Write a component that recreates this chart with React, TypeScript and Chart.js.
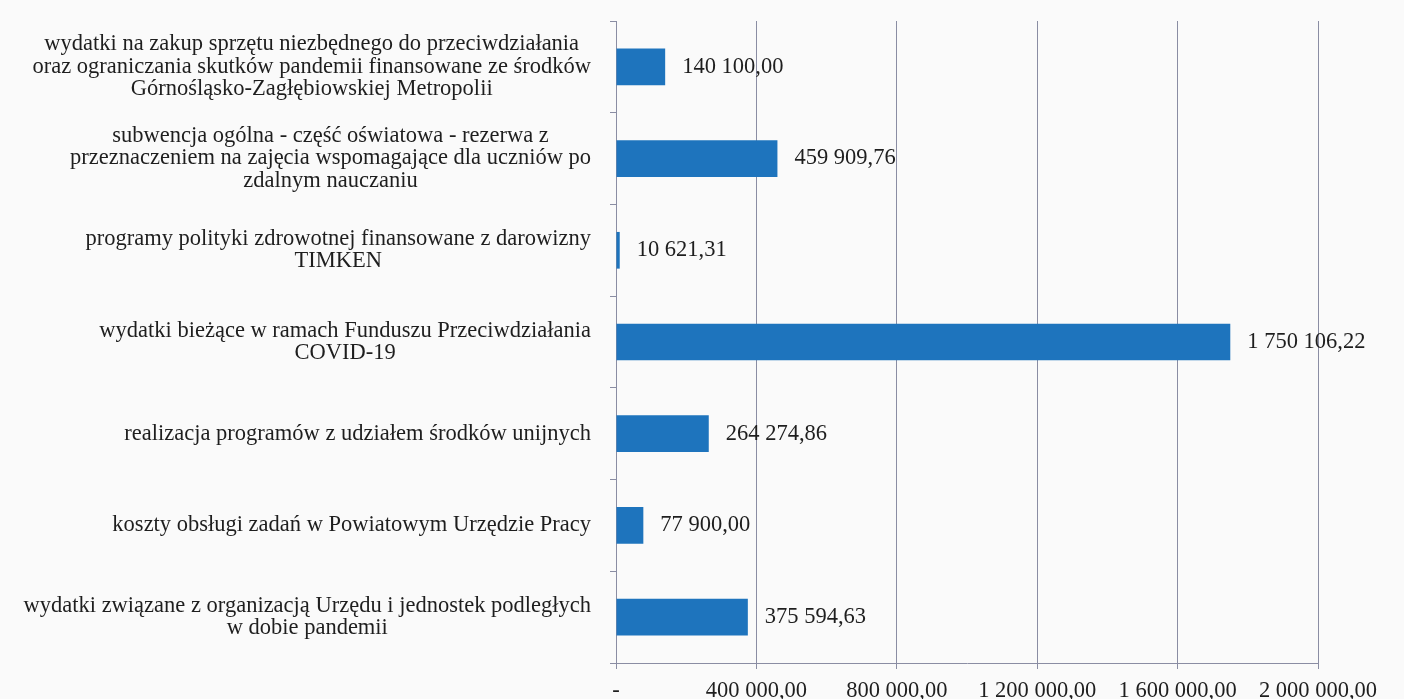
import React, { useEffect, useRef } from "react";
import { Chart, registerables } from "chart.js";

Chart.register(...registerables);

const categoryLines: string[][] = [
  [
    "wydatki na zakup sprzętu niezbędnego do przeciwdziałania",
    "oraz ograniczania skutków pandemii finansowane ze środków",
    "Górnośląsko-Zagłębiowskiej Metropolii",
  ],
  [
    "subwencja ogólna - część oświatowa - rezerwa z",
    "przeznaczeniem na zajęcia wspomagające dla uczniów po",
    "zdalnym nauczaniu",
  ],
  ["programy polityki zdrowotnej finansowane z darowizny", "TIMKEN"],
  ["wydatki bieżące w ramach Funduszu Przeciwdziałania", "COVID-19"],
  ["realizacja programów z udziałem środków unijnych"],
  ["koszty obsługi zadań w Powiatowym Urzędzie Pracy"],
  ["wydatki związane z organizacją Urzędu i jednostek podległych", "w dobie pandemii"],
];

const values: number[] = [140100.0, 459909.76, 10621.31, 1750106.22, 264274.86, 77900.0, 375594.63];

const xMin = 0;
const xMax = 2000000;
const xStep = 400000;

const FONT = '"Liberation Serif", "Times New Roman", serif';
const FONT_SIZE = 22.5;
const TEXT_COLOR = "#1e1e1e";
const GRID_COLOR = "#8a8da3";

function fmt(v: number): string {
  if (v === 0) return "-";
  const [intPart, dec] = v.toFixed(2).split(".");
  const withSpaces = intPart.replace(/\B(?=(\d{3})+(?!\d))/g, " ");
  return withSpaces + "," + dec;
}

const labelPlugin = {
  id: "customLabels",
  afterDatasetsDraw(chart: any) {
    const ctx = chart.ctx;
    const yScale = chart.scales.y;
    ctx.save();
    ctx.font = `${FONT_SIZE}px ${FONT}`;
    ctx.fillStyle = TEXT_COLOR;
    ctx.textBaseline = "middle";
    const rightEdge = 591;
    const lh = 22.5;
    categoryLines.forEach((lines, i) => {
      const yc = yScale.getPixelForValue(i);
      const maxW = Math.max(...lines.map((l) => ctx.measureText(l).width));
      const cx = rightEdge - maxW / 2;
      ctx.textAlign = "center";
      const start = yc - ((lines.length - 1) * lh) / 2;
      lines.forEach((l, k) => ctx.fillText(l, cx, start + k * lh));
    });
    const meta = chart.getDatasetMeta(0);
    ctx.textAlign = "left";
    meta.data.forEach((bar: any, i: number) => {
      ctx.fillText(fmt(values[i]), bar.x + 17, bar.y);
    });
    ctx.restore();
  },
};

export default function App() {
  const ref = useRef<HTMLCanvasElement | null>(null);
  useEffect(() => {
    if (!ref.current) return;
    const chart = new Chart(ref.current, {
      type: "bar",
      data: {
        labels: categoryLines.map((l) => l.join(" ")),
        datasets: [
          {
            data: values,
            backgroundColor: "#1e74bd",
            borderWidth: 0,
            barPercentage: 0.4,
            categoryPercentage: 1,
          },
        ],
      },
      options: {
        indexAxis: "y",
        animation: false,
        responsive: false,
        maintainAspectRatio: false,
        layout: { padding: { top: 21, right: 86, left: 0, bottom: 0 } },
        plugins: {
          legend: { display: false },
          tooltip: { enabled: false },
        },
        scales: {
          x: {
            min: xMin,
            max: xMax,
            ticks: {
              stepSize: xStep,
              callback: (v: any) => fmt(Number(v)),
              font: { family: FONT, size: FONT_SIZE },
              color: TEXT_COLOR,
              padding: 9,
              maxRotation: 0,
            },
            grid: {
              color: GRID_COLOR,
              lineWidth: 1,
              tickLength: 6,
              drawTicks: true,
            },
            border: { color: GRID_COLOR, width: 1 },
          },
          y: {
            ticks: { display: false },
            grid: {
              drawOnChartArea: false,
              drawTicks: true,
              tickLength: 6,
              color: GRID_COLOR,
              offset: true,
            },
            border: { color: GRID_COLOR, width: 1 },
            afterFit: (scale: any) => {
              scale.width = 616;
            },
          },
        },
      },
      plugins: [labelPlugin],
    });
    return () => chart.destroy();
  }, []);
  return (
    <div
      style={{
        position: "fixed",
        left: 0,
        top: 0,
        width: 1404,
        height: 699,
        overflow: "hidden",
        background: "#fafafa",
      }}
    >
      <canvas ref={ref} width={1404} height={714} style={{ display: "block" }} />
    </div>
  );
}
